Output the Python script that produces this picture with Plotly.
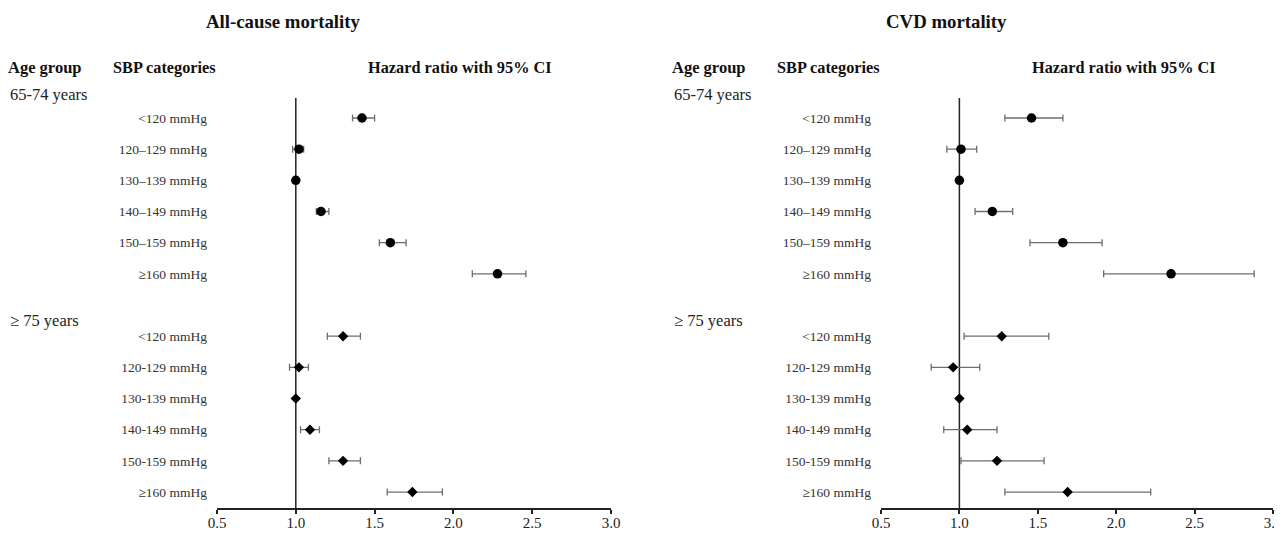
import plotly.graph_objects as go

# ---------------- data ----------------
panel_titles = ["All-cause mortality", "CVD mortality"]
age_groups = ["65-74 years", "\u2265 75 years"]
sbp_labels_young = ["<120 mmHg", "120\u2013129 mmHg", "130\u2013139 mmHg",
                    "140\u2013149 mmHg", "150\u2013159 mmHg", "\u2265160 mmHg"]
sbp_labels_old = ["<120 mmHg", "120-129 mmHg", "130-139 mmHg",
                  "140-149 mmHg", "150-159 mmHg", "\u2265160 mmHg"]

# All-cause mortality
allcause_young_hr = [1.42, 1.02, 1.00, 1.16, 1.60, 2.28]
allcause_young_lo = [1.36, 0.98, 1.00, 1.13, 1.53, 2.12]
allcause_young_hi = [1.50, 1.05, 1.00, 1.21, 1.70, 2.46]
allcause_old_hr = [1.30, 1.02, 1.00, 1.09, 1.30, 1.74]
allcause_old_lo = [1.20, 0.96, 1.00, 1.03, 1.21, 1.58]
allcause_old_hi = [1.41, 1.08, 1.00, 1.15, 1.41, 1.93]

# CVD mortality
cvd_young_hr = [1.46, 1.01, 1.00, 1.21, 1.66, 2.35]
cvd_young_lo = [1.29, 0.92, 1.00, 1.10, 1.45, 1.92]
cvd_young_hi = [1.66, 1.11, 1.00, 1.34, 1.91, 2.88]
cvd_old_hr = [1.27, 0.96, 1.00, 1.05, 1.24, 1.69]
cvd_old_lo = [1.03, 0.82, 1.00, 0.90, 1.01, 1.29]
cvd_old_hi = [1.57, 1.13, 1.00, 1.24, 1.54, 2.22]

x_ticks = [0.5, 1.0, 1.5, 2.0, 2.5, 3.0]
rows_young = [0, 1, 2, 3, 4, 5]
rows_old = [7, 8, 9, 10, 11, 12]

# ---------------- layout constants ----------------
W, H = 1282, 533
OFF = 8                  # page body margin
SERIF = "Liberation Serif, Times New Roman, serif"
ERR_COLOR = "#6e6e6e"


def px_x(p):
    return max(0.0, min(1.0, (p - OFF) / W))


def px_y(p):
    return 1 - (p - OFF) / H


fig = go.Figure()

panels = [
    dict(xa="x", ya="y", data=[(allcause_young_hr, allcause_young_lo, allcause_young_hi),
                               (allcause_old_hr, allcause_old_lo, allcause_old_hi)]),
    dict(xa="x2", ya="y2", data=[(cvd_young_hr, cvd_young_lo, cvd_young_hi),
                                 (cvd_old_hr, cvd_old_lo, cvd_old_hi)]),
]

for p in panels:
    for gi, (hr, lo, hi) in enumerate(p["data"]):
        rows = rows_young if gi == 0 else rows_old
        fig.add_trace(go.Scatter(
            x=hr, y=rows, mode="markers",
            xaxis=p["xa"], yaxis=p["ya"],
            marker=dict(symbol="circle" if gi == 0 else "diamond",
                        size=9.5 if gi == 0 else 8, color="black"),
            error_x=dict(type="data", symmetric=False,
                         array=[h - m for h, m in zip(hi, hr)],
                         arrayminus=[m - l for m, l in zip(hr, lo)],
                         color=ERR_COLOR, thickness=1.3, width=3.5),
            showlegend=False, hoverinfo="x+y",
        ))

# axis domains in pixels (screen coordinates)
y_top_px, y_bot_px = 98, 508
ydom = [px_y(y_bot_px), px_y(y_top_px)]
row0_px, row_step = 118, 31.17
y_range = [(y_bot_px - row0_px) / row_step, (y_top_px - row0_px) / row_step]

xaxis_common = dict(range=[0.5, 3.0], tickvals=x_ticks,
                    ticktext=[f"{v:.1f}" for v in x_ticks],
                    showgrid=False, zeroline=False, showline=True,
                    linecolor="#222", linewidth=1.5, ticks="outside",
                    ticklen=4, tickwidth=1.5, tickcolor="#222",
                    tickfont=dict(family=SERIF, size=15, color="#222"),
                    ticklabelstandoff=-4, automargin=False, fixedrange=True)
yaxis_common = dict(range=y_range, domain=ydom, showgrid=False, zeroline=False,
                    showline=False, ticks="",
                    tickvals=rows_young + rows_old,
                    ticktext=sbp_labels_young + sbp_labels_old,
                    tickfont=dict(family=SERIF, size=13.5, color="#333"),
                    ticklabelstandoff=9, automargin=False, fixedrange=True)

fig.update_layout(
    width=W, height=H,
    margin=dict(l=0, r=0, t=0, b=0, pad=0, autoexpand=False),
    paper_bgcolor="white", plot_bgcolor="white",
    xaxis=dict(domain=[px_x(217), px_x(611)], anchor="y", **xaxis_common),
    xaxis2=dict(domain=[px_x(881), px_x(1273)], anchor="y2", **xaxis_common),
    yaxis=dict(anchor="x", **yaxis_common),
    yaxis2=dict(anchor="x2", **yaxis_common),
    showlegend=False,
)

# reference line at HR = 1
for xa, yd in [("x", "y domain"), ("x2", "y2 domain")]:
    fig.add_shape(type="line", xref=xa, yref=yd,
                  x0=1, x1=1, y0=0, y1=1, line=dict(color="#222", width=1.5), layer="below")

# text annotations
offsets = [0, 664]
for pi, off in enumerate(offsets):
    fig.add_annotation(text=f"<b>{panel_titles[pi]}</b>", x=px_x(283 + off), xref="paper",
                       xanchor="center", y=px_y(22), yref="paper", yanchor="middle",
                       showarrow=False, font=dict(family=SERIF, size=18.8, color="#111"))
    fig.add_annotation(text="<b>Age group</b>", x=px_x(8 + off), xref="paper",
                       xanchor="left", y=px_y(67), yref="paper", yanchor="middle",
                       showarrow=False, borderpad=0, borderwidth=0,
                       font=dict(family=SERIF, size=16.5, color="#111"))
    fig.add_annotation(text="<b>SBP categories</b>", x=px_x(113 + off), xref="paper",
                       xanchor="left", y=px_y(67), yref="paper", yanchor="middle",
                       showarrow=False, borderpad=0, borderwidth=0,
                       font=dict(family=SERIF, size=16.3, color="#111"))
    fig.add_annotation(text="<b>Hazard ratio with 95% CI</b>", x=px_x(460 + off), xref="paper",
                       xanchor="center", y=px_y(67), yref="paper", yanchor="middle",
                       showarrow=False, font=dict(family=SERIF, size=16.3, color="#111"))
    for gi, g in enumerate(age_groups):
        ypx = 95 if gi == 0 else 320
        fig.add_annotation(text=g, x=px_x(10 + off), xref="paper", xanchor="left",
                           y=px_y(ypx), yref="paper", yanchor="middle", showarrow=False,
                           borderpad=0, borderwidth=0,
                           font=dict(family=SERIF, size=16.5, color="#222"))

fig.write_html("out.html")
